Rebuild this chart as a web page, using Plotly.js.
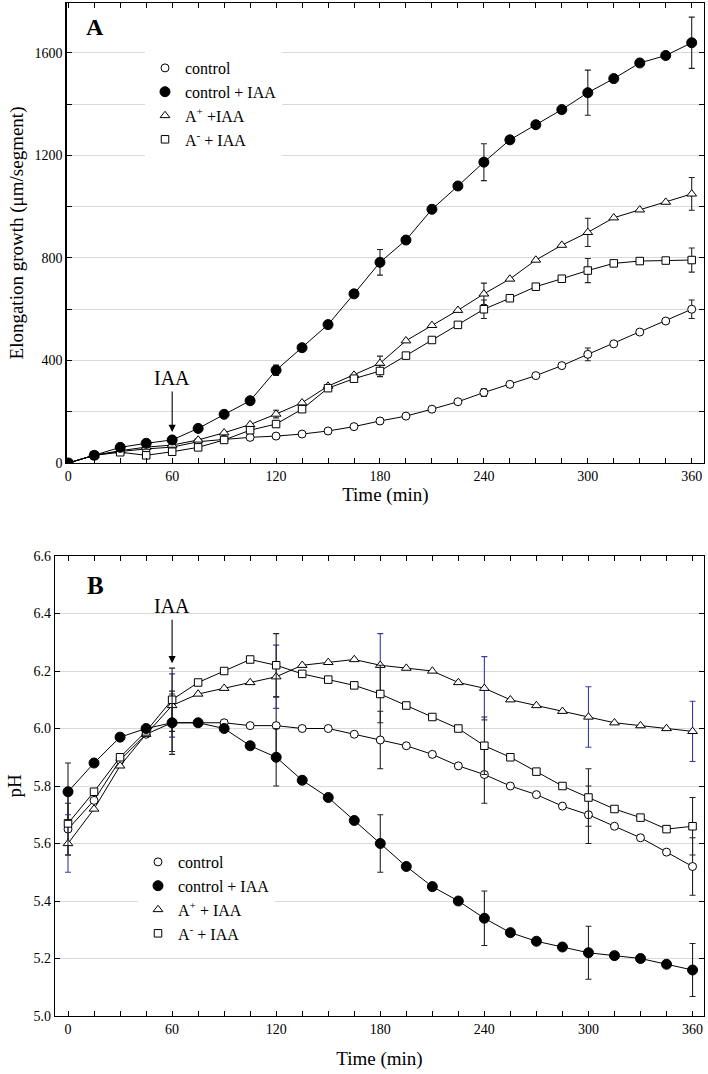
<!DOCTYPE html>
<html>
<head>
<meta charset="utf-8">
<script src="https://cdn.plot.ly/plotly-3.0.1.min.js"></script>
<style>html,body{margin:0;padding:0;background:#fff;}#chart{width:708px;height:1074px;}</style>
</head>
<body>
<div id="chart"></div>
<script>
// ---- shared time axis (min) ----
const time = [0,15,30,45,60,75,90,105,120,135,150,165,180,195,210,225,240,255,270,285,300,315,330,345,360];
const xTickVals = [0,60,120,180,240,300,360];
const xTickText = ['0','60','120','180','240','300','360'];

// ---- Panel A: elongation growth (µm/segment) ----
const seriesNames = ['control', 'control + IAA', 'A<sup>+</sup> +IAA', 'A<sup>-</sup> + IAA'];
const seriesNamesB = ['control', 'control + IAA', 'A<sup>+</sup> + IAA', 'A<sup>-</sup> + IAA'];
const growthControl = [0,30,45,55,62,83,92,100,105,113,125,142,164,183,210,239,275,307,341,380,424,465,511,554,600];
const growthControlIAA = [0,30,61,77,90,135,190,243,362,450,540,660,783,870,990,1081,1174,1261,1320,1379,1445,1500,1561,1590,1640];
const growthAplusIAA = [0,30,48,62,70,90,118,150,191,235,300,343,389,477,537,596,660,718,792,850,900,957,988,1018,1050];
const growthAminusIAA = [0,30,42,30,44,61,90,128,152,210,292,329,359,419,480,539,600,643,688,719,751,779,788,790,792];
const errTimesA = [60,120,180,240,300,360];
const errGrowthControl = [5,10,10,15,25,36];
const errGrowthControlIAA = [8,20,50,72,88,100];
const errGrowthAplusIAA = [5,15,28,42,55,64];
const errGrowthAminusIAA = [5,12,22,36,47,47];
const yTickValsA = [0,400,800,1200,1600];
const yTickTextA = ['0','400','800','1200','1600'];

// ---- Panel B: pH ----
const phControl = [5.65,5.75,5.89,5.98,6.02,6.02,6.02,6.01,6.01,6.00,6.00,5.98,5.96,5.94,5.91,5.87,5.84,5.80,5.77,5.73,5.70,5.66,5.62,5.57,5.52];
const phControlIAA = [5.78,5.88,5.97,6.00,6.02,6.02,6.00,5.94,5.90,5.82,5.76,5.68,5.60,5.52,5.45,5.40,5.34,5.29,5.26,5.24,5.22,5.21,5.20,5.18,5.16];
const phAplusIAA = [5.60,5.72,5.87,5.98,6.08,6.12,6.14,6.16,6.18,6.22,6.23,6.24,6.22,6.21,6.20,6.16,6.14,6.10,6.08,6.06,6.04,6.02,6.01,6.00,5.99];
const phAminusIAA = [5.67,5.78,5.90,5.99,6.10,6.16,6.20,6.24,6.22,6.19,6.17,6.15,6.12,6.08,6.04,6.00,5.94,5.90,5.85,5.80,5.76,5.72,5.69,5.65,5.66];
const errTimesB = [0,60,120,180,240,300,360];
const errPhControl = [0.09,0.10,0.10,0.10,0.10,0.10,0.10];
const errPhControlIAA = [0.10,0.11,0.10,0.10,0.095,0.092,0.092];
const errPhAplusIAA = [0.10,0.11,0.11,0.11,0.11,0.105,0.105];
const errPhAminusIAA = [0.11,0.11,0.11,0.10,0.10,0.10,0.10];
const yTickValsB = [5.0,5.2,5.4,5.6,5.8,6.0,6.2,6.4,6.6];
const yTickTextB = ['5.0','5.2','5.4','5.6','5.8','6.0','6.2','6.4','6.6'];

// ---- build ----
function fullErr(errTimes, errVals) {
  return time.map(t => { const k = errTimes.indexOf(t); return k >= 0 ? errVals[k] : NaN; });
}
const serif = '"Liberation Serif", "Times New Roman", serif';
const styles = [
  {symbol:'circle', color:'#fff', size:8},
  {symbol:'circle', color:'#000', size:10},
  {symbol:'triangle-up', color:'#fff', size:8.5},
  {symbol:'square', color:'#fff', size:7.5}
];
function mk(xa, ya, y, errTimes, err, st, errColor) {
  return {
    type:'scatter', mode:'lines+markers', x:time, y:y, xaxis:xa, yaxis:ya, showlegend:false,
    line:{color:'#000', width:1},
    marker:{symbol:st.symbol, size:st.size, color:st.color, line:{color:'#000', width:1}},
    error_y:{type:'data', array:fullErr(errTimes, err), visible:true, color:errColor, thickness:1.1, width:3},
    hoverinfo:'skip'
  };
}
function legendTrace(xa, ya, name, st, legendId) {
  return {
    type:'scatter', mode:'markers', x:[null], y:[null], xaxis:xa, yaxis:ya, name:name, legend:legendId,
    marker:{symbol:st.symbol, size:st.size, color:st.color, line:{color:'#000', width:1}}, showlegend:true
  };
}
const dark = '#222';
const blue = '#3a3aa8';
const traces = [
  mk('x','y', growthControl, errTimesA, errGrowthControl, styles[0], dark),
  mk('x','y', growthAplusIAA, errTimesA, errGrowthAplusIAA, styles[2], dark),
  mk('x','y', growthAminusIAA, errTimesA, errGrowthAminusIAA, styles[3], dark),
  mk('x','y', growthControlIAA, errTimesA, errGrowthControlIAA, styles[1], dark),
  mk('x2','y2', phControl, errTimesB, errPhControl, styles[0], dark),
  mk('x2','y2', phAplusIAA, errTimesB, errPhAplusIAA, styles[2], blue),
  mk('x2','y2', phAminusIAA, errTimesB, errPhAminusIAA, styles[3], dark),
  mk('x2','y2', phControlIAA, errTimesB, errPhControlIAA, styles[1], dark)
];
for (let i = 0; i < 4; i++) traces.push(legendTrace('x','y', seriesNames[i], styles[i], 'legend'));
for (let i = 0; i < 4; i++) traces.push(legendTrace('x2','y2', seriesNamesB[i], styles[i], 'legend2'));

const W = 708, H = 1074;
const axisBase = {
  showline:true, linecolor:'#000', linewidth:1.3, mirror:'allticks', ticks:'inside', ticklen:5,
  tickcolor:'#000', tickfont:{family:serif, size:14, color:'#000'}, zeroline:false
};
const xMinor = {dtick:15, tick0:0, ticks:'inside', ticklen:5, tickcolor:'#000', showgrid:false};
const layout = {
  width:W, height:H, margin:{l:0, r:0, t:0, b:0}, paper_bgcolor:'#fff', plot_bgcolor:'#fff',
  font:{family:serif, color:'#000'},
  xaxis: Object.assign({}, axisBase, {
    domain:[66.7/W, 704/W], range:[-0.9, 367.1], anchor:'y', showgrid:false,
    tickmode:'array', tickvals:xTickVals, ticktext:xTickText, minor:xMinor,
    title:{text:'Time (min)', font:{family:serif, size:19, color:'#000'}, standoff:2}
  }),
  yaxis: Object.assign({}, axisBase, {
    domain:[1-463/H, 1-3/H], range:[0, 1795], anchor:'x', showgrid:true, gridcolor:'#d9d9d9', gridwidth:1,
    tickmode:'array', tickvals:yTickValsA, ticktext:yTickTextA,
    minor:{dtick:200, tick0:0, ticks:'inside', ticklen:5, tickcolor:'#000', showgrid:true, gridcolor:'#d9d9d9', gridwidth:1},
    title:{text:'Elongation growth (μm/segment)', font:{family:serif, size:19, color:'#000'}, standoff:6}
  }),
  xaxis2: Object.assign({}, axisBase, {
    domain:[55/W, 704/W], range:[-7.5, 366.6], anchor:'y2', showgrid:false,
    tickmode:'array', tickvals:xTickVals, ticktext:xTickText, minor:xMinor,
    title:{text:'Time (min)', font:{family:serif, size:19, color:'#000'}, standoff:15}
  }),
  yaxis2: Object.assign({}, axisBase, {
    domain:[1-1016/H, 1-556/H], range:[5.0, 6.6], anchor:'x2', showgrid:true, gridcolor:'#d9d9d9', gridwidth:1,
    tickmode:'array', tickvals:yTickValsB, ticktext:yTickTextB,
    title:{text:'pH', font:{family:serif, size:19, color:'#000'}, standoff:6}
  }),
  legend:{x:145/W, y:1-51/H, xanchor:'left', yanchor:'top', bgcolor:'#fff', borderwidth:0,
    font:{family:serif, size:16, color:'#000'}, tracegroupgap:0},
  legend2:{x:138/W, y:1-845/H, xanchor:'left', yanchor:'top', bgcolor:'#fff', borderwidth:0,
    font:{family:serif, size:16, color:'#000'}, tracegroupgap:0},
  annotations:[
    {xref:'paper', yref:'paper', x:95/W, y:1-27/H, xanchor:'center', yanchor:'middle', text:'<b>A</b>', showarrow:false,
     font:{family:serif, size:24, color:'#000'}},
    {xref:'paper', yref:'paper', x:95/W, y:1-585/H, xanchor:'center', yanchor:'middle', text:'<b>B</b>', showarrow:false,
     font:{family:serif, size:25, color:'#000'}},
    {xref:'x', yref:'y', x:60, y:121, text:'IAA', showarrow:true, ax:0, ay:-54,
     arrowhead:2, arrowsize:1.3, arrowwidth:1.1, arrowcolor:'#000', borderpad:2,
     font:{family:serif, size:20, color:'#000'}},
    {xref:'x2', yref:'y2', x:60, y:6.227, text:'IAA', showarrow:true, ax:0, ay:-57,
     arrowhead:2, arrowsize:1.3, arrowwidth:1.1, arrowcolor:'#000', borderpad:2,
     font:{family:serif, size:20, color:'#000'}}
  ]
};
Plotly.newPlot('chart', traces, layout, {displayModeBar:false, staticPlot:true});
</script>
</body>
</html>
